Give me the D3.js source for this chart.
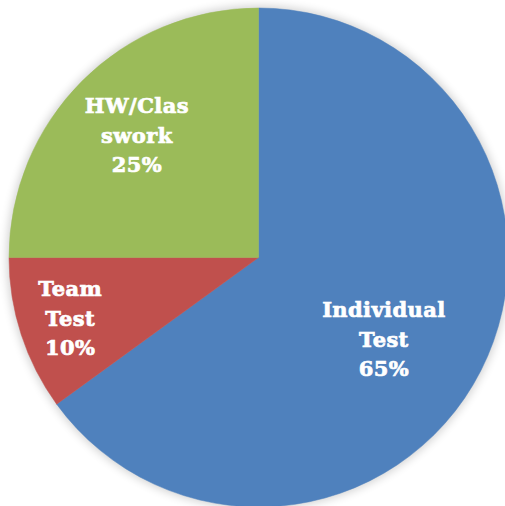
<!DOCTYPE html>
<html>
<head>
<meta charset="utf-8">
<script src="https://cdn.jsdelivr.net/npm/d3@7"></script>
<style>
  html, body { margin: 0; padding: 0; background: #fff; }
  svg { display: block; }
</style>
</head>
<body>
<div id="chart"></div>
<script>
const categories = ["Individual Test", "Team Test", "HW/Classwork"]
const values = [65, 10, 25]
const labelLines = [["Individual", "Test", "65%"], ["Team", "Test", "10%"], ["HW/Clas", "swork", "25%"]]
const colors = ["#4F81BD", "#C0504D", "#9BBB59"]

const width = 505
const height = 506
const cx = 258.5
const cy = 257.5
const radius = 249.5

// label distance from centre, per slice (excel "best fit" look)
const labelRadius = [150, 198, 172]
const labelAngleShift = [0.11, 0, 0]

const svg = d3.select("#chart").append("svg")
  .attr("width", width)
  .attr("height", height)

const defs = svg.append("defs")
const blur = defs.append("filter").attr("id", "shadow")
  .attr("x", "-10%").attr("y", "-10%").attr("width", "120%").attr("height", "120%")
blur.append("feGaussianBlur").attr("stdDeviation", 5)

const g = svg.append("g").attr("transform", `translate(${cx},${cy})`)

g.append("circle")
  .attr("r", radius + 2)
  .attr("fill", "#000")
  .attr("opacity", 0.18)
  .attr("filter", "url(#shadow)")

const pie = d3.pie().sort(null).value(d => d)
const arcs = pie(values)
const arc = d3.arc().innerRadius(0).outerRadius(radius)

g.selectAll("path.slice")
  .data(arcs)
  .join("path")
  .attr("class", "slice")
  .attr("d", arc)
  .attr("fill", (d, i) => colors[i])
  .attr("stroke", (d, i) => colors[i])
  .attr("stroke-width", 0.5)

const labels = g.selectAll("text.label")
  .data(arcs)
  .join("text")
  .attr("class", "label")
  .attr("text-anchor", "middle")
  .attr("font-family", "'DejaVu Serif', serif")
  .attr("font-weight", "bold")
  .attr("font-size", 21)
  .attr("letter-spacing", 0.4)
  .attr("fill", "#fff")
  .attr("stroke", "#fff")
  .attr("stroke-width", 0.7)
  .attr("transform", (d, i) => {
    const a = (d.startAngle + d.endAngle) / 2 + labelAngleShift[i]
    const r = labelRadius[i]
    return `translate(${Math.sin(a) * r},${-Math.cos(a) * r})`
  })

labels.selectAll("tspan")
  .data((d, i) => labelLines[i].map((t, k) => ({t, k})))
  .join("tspan")
  .attr("x", 0)
  .attr("y", d => (d.k - 1) * 29.5 + 7)
  .text(d => d.t)
</script>
</body>
</html>
